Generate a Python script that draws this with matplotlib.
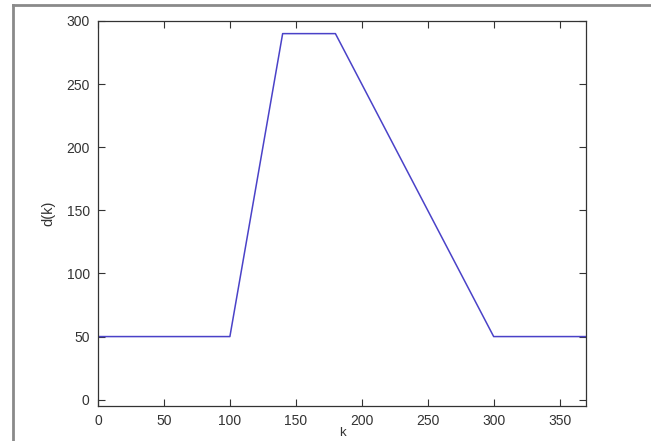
import matplotlib

matplotlib.use("Agg")
import matplotlib.pyplot as plt
from matplotlib.lines import Line2D

# breakpoints of the piecewise-linear d(k) profile
k_points = [0, 100, 140, 180, 300, 370]
d_points = [50, 50, 290, 290, 50, 50]

x_ticks = [0, 50, 100, 150, 200, 250, 300, 350]
y_ticks = [0, 50, 100, 150, 200, 250, 300]

plt.rcParams["font.family"] = ["Liberation Sans", "DejaVu Sans"]

fig = plt.figure(figsize=(6.51, 4.41), dpi=100)
W, H = 651, 441
ax = fig.add_axes([98 / W, 1 - 406 / H, (586 - 98) / W, (406 - 21) / H])

ax.plot(k_points, d_points, color="#4a42c8", linewidth=1.1)

ax.set_xlim(0, 370)
ax.set_ylim(-5, 300)
ax.set_xticks(x_ticks)
ax.set_yticks(y_ticks)
ax.tick_params(direction="in", top=True, right=True, length=5, width=0.8,
               labelsize=10, colors="#333333", pad=6)
for sp in ax.spines.values():
    sp.set_linewidth(0.9)
    sp.set_color("#333333")

ax.set_ylabel("d(k)", fontsize=10.5, color="#333333", labelpad=8)
# the reference crops the x label at the bottom edge; keep it just inside
ax.set_xlabel("k", fontsize=9.5, color="#333333", labelpad=-1)

# outer grey frame (top and left edges visible in the reference)
fig.add_artist(Line2D([13 / W, 1.0], [1 - 5 / H, 1 - 5 / H], color="#8a8a8a", linewidth=2))
fig.add_artist(Line2D([13 / W, 13 / W], [0.0, 1 - 5 / H], color="#8a8a8a", linewidth=2))

fig.savefig("out.png", dpi=100)
